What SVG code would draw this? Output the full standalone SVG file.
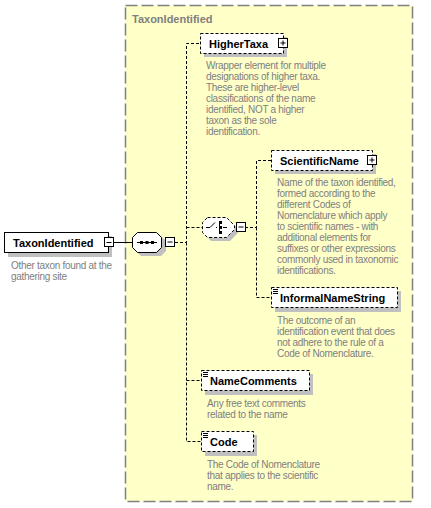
<svg xmlns="http://www.w3.org/2000/svg" width="431" height="508" viewBox="0 0 431 508">
<style>
.grp{fill:#FFFFC8;stroke:#808080;stroke-width:1.5;stroke-dasharray:12 4}
.box{fill:#fff;stroke:#000;stroke-width:1}
.opt{stroke-dasharray:3 2}
.shadow{fill:#C0C0C0}
.name{font-family:"Liberation Sans",Arial,sans-serif;font-weight:bold;font-size:11px;fill:#000}
.title{font-family:"Liberation Sans",Arial,sans-serif;font-weight:bold;font-size:11px;fill:#808080}
.desc{font-family:"Liberation Sans",Arial,sans-serif;font-size:10px;letter-spacing:-0.3px;fill:#808080}
.conn{fill:none;stroke:#000;stroke-width:1}
.dash{stroke-dasharray:3 2}
.icon{fill:#fff;stroke:#000;stroke-width:1}
.mark{fill:none;stroke:#000;stroke-width:1}
</style>
<rect class="grp" x="125.5" y="5.5" width="287" height="496"/>
<text class="title" x="132" y="23">TaxonIdentified</text>

<g id="connectors">
<path class="conn" d="M113.5 242.5H132"/>
<path class="conn dash" d="M175 242.5H186.5V43.5H200M186.5 227.5H202M186.5 242.5V441.5H201M186.5 380.5H201"/>
<path class="conn dash" d="M245 227.5H256.5V160.5H271M256.5 227.5V297.5H271"/>
</g>

<g id="TaxonIdentified">
<rect class="shadow" x="8" y="236" width="104" height="21"/>
<rect class="box" x="4.5" y="232.5" width="104" height="20"/>
<text class="name" x="13" y="246.5">TaxonIdentified</text>
<rect class="icon" x="104.5" y="237.5" width="9" height="9"/>
<path class="mark" d="M106.5 242.5h5"/>
<text class="desc" x="11" y="268.5">Other taxon found at the</text>
<text class="desc" x="11" y="279.5">gathering site</text>
</g>

<g id="sequence">
<polygon class="shadow" points="141,236 161,236 166,241 166,251 161,256 141,256 136,251 136,241"/>
<polygon class="box" points="137.5,232.5 156.5,232.5 161.5,237.5 161.5,247.5 156.5,252.5 137.5,252.5 132.5,247.5 132.5,237.5"/>
<path class="mark" d="M137 242.5h20"/>
<rect x="140" y="241" width="3" height="3" fill="#000"/>
<rect x="145.5" y="241" width="3" height="3" fill="#000"/>
<rect x="151" y="241" width="3" height="3" fill="#000"/>
<rect class="icon" x="165.5" y="237.5" width="9" height="9"/>
<path class="mark" d="M167.5 242h5"/>
</g>

<g id="choice">
<polygon class="shadow" points="211,221 230,221 238,229 238,233 230,241 211,241 206,236 206,226"/>
<polygon class="box opt" points="207.5,217.5 226.5,217.5 234.5,225.5 234.5,229.5 226.5,237.5 207.5,237.5 202.5,232.5 202.5,222.5"/>
<path class="mark" d="M206 227.5h4l5-5M216 227.5h1M219.5 222.5v10M223 227.5h4"/>
<rect x="219" y="221" width="3" height="3" fill="#000"/>
<rect x="219" y="226" width="3" height="3" fill="#000"/>
<rect x="219" y="231" width="3" height="3" fill="#000"/>
<rect class="icon" x="236.5" y="222.5" width="9" height="9"/>
<path class="mark" d="M238.5 227h5"/>
</g>

<g id="HigherTaxa">
<rect class="shadow" x="204" y="37" width="83" height="20"/>
<rect class="box opt" x="200.5" y="33.5" width="83" height="20"/>
<text class="name" x="209" y="47.5">HigherTaxa</text>
<rect class="icon" x="278.5" y="38.5" width="9" height="9"/>
<path class="mark" d="M280.5 43h5M283 40.5v5"/>
<text class="desc" x="206" y="69">Wrapper element for multiple</text>
<text class="desc" x="206" y="80">designations of higher taxa.</text>
<text class="desc" x="206" y="91">These are higher-level</text>
<text class="desc" x="206" y="102">classifications of the name</text>
<text class="desc" x="206" y="113">identified, NOT a higher</text>
<text class="desc" x="206" y="124">taxon as the sole</text>
<text class="desc" x="206" y="135">identification.</text>
</g>

<g id="ScientificName">
<rect class="shadow" x="275" y="154" width="101" height="20"/>
<rect class="box opt" x="271.5" y="150.5" width="101" height="20"/>
<text class="name" x="280" y="164.5">ScientificName</text>
<rect class="icon" x="367.5" y="155.5" width="9" height="9"/>
<path class="mark" d="M369.5 160h5M372 157.5v5"/>
<text class="desc" x="277" y="186">Name of the taxon identified,</text>
<text class="desc" x="277" y="197">formed according to the</text>
<text class="desc" x="277" y="208">different Codes of</text>
<text class="desc" x="277" y="219">Nomenclature which apply</text>
<text class="desc" x="277" y="230">to scientific names - with</text>
<text class="desc" x="277" y="241">additional elements for</text>
<text class="desc" x="277" y="252">suffixes or other expressions</text>
<text class="desc" x="277" y="263">commonly used in taxonomic</text>
<text class="desc" x="277" y="274">identifications.</text>
</g>

<g id="InformalNameString">
<rect class="shadow" x="275" y="291" width="126" height="21"/>
<rect class="box opt" x="271.5" y="287.5" width="126" height="20"/>
<path class="mark" d="M273 289.5h5M273 291.5h5M273 293.5h5"/>
<text class="name" x="280" y="301.5">InformalNameString</text>
<text class="desc" x="277" y="323.5">The outcome of an</text>
<text class="desc" x="277" y="334.5">identification event that does</text>
<text class="desc" x="277" y="345.5">not adhere to the rule of a</text>
<text class="desc" x="277" y="356.5">Code of Nomenclature.</text>
</g>

<g id="NameComments">
<rect class="shadow" x="205" y="374" width="108" height="21"/>
<rect class="box opt" x="201.5" y="370.5" width="108" height="20"/>
<path class="mark" d="M203 372.5h5M203 374.5h5M203 376.5h5"/>
<text class="name" x="210" y="384.5">NameComments</text>
<text class="desc" x="207" y="407">Any free text comments</text>
<text class="desc" x="207" y="418">related to the name</text>
</g>

<g id="Code">
<rect class="shadow" x="205" y="435" width="52" height="21"/>
<rect class="box opt" x="201.5" y="431.5" width="52" height="20"/>
<path class="mark" d="M203 433.5h5M203 435.5h5M203 437.5h5"/>
<text class="name" x="210" y="445.5">Code</text>
<text class="desc" x="207" y="467.5">The Code of Nomenclature</text>
<text class="desc" x="207" y="478.5">that applies to the scientific</text>
<text class="desc" x="207" y="489.5">name.</text>
</g>
</svg>
